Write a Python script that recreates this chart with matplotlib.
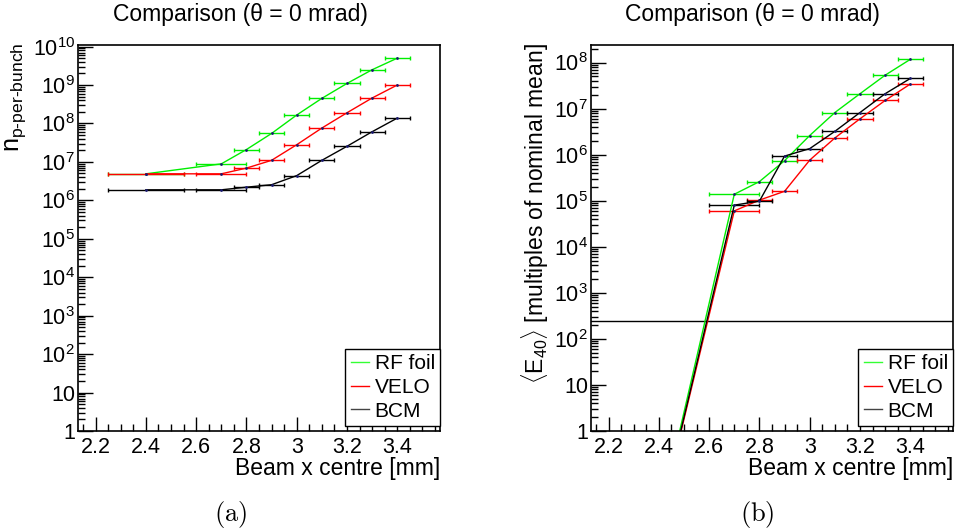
import numpy as np
import matplotlib
matplotlib.use("Agg")
import matplotlib.pyplot as plt
from matplotlib.ticker import FixedLocator, LogLocator, MultipleLocator, NullFormatter, FuncFormatter
from matplotlib.lines import Line2D

plt.rcParams['font.family'] = ['Liberation Sans', 'DejaVu Sans']
plt.rcParams['mathtext.fontset'] = 'custom'
plt.rcParams['mathtext.rm'] = 'Liberation Sans'
plt.rcParams['mathtext.it'] = 'Liberation Sans:italic'
plt.rcParams['mathtext.bf'] = 'Liberation Sans:bold'

# beam x centre [mm] and horizontal errors
beam_x = [2.4, 2.7, 2.8, 2.9, 3.0, 3.1, 3.2, 3.3, 3.4]
beam_xerr = [0.15, 0.1, 0.05, 0.05, 0.05, 0.05, 0.05, 0.05, 0.05]

# (a) protons per bunch
n_rf_foil = [4.9e6, 8.9e6, 2.1e7, 5.5e7, 1.66e8, 4.5e8, 1.1e9, 2.5e9, 5.0e9]
n_velo = [4.9e6, 4.9e6, 6.9e6, 1.1e7, 2.8e7, 7.6e7, 1.9e8, 4.6e8, 1.0e9]
n_bcm = [1.88e6, 1.88e6, 2.2e6, 2.55e6, 4.4e6, 1.1e7, 2.55e7, 6.1e7, 1.38e8]

# (b) <E40> in multiples of nominal mean
e_rf_foil = [0.011, 1.38e5, 2.6e5, 7.4e5, 2.6e6, 8.2e6, 2.1e7, 5.3e7, 1.17e8]
e_velo = [0.010, 6.0e4, 1.03e5, 1.6e5, 7.6e5, 2.3e6, 6.0e6, 1.5e7, 3.4e7]
e_bcm = [0.010, 8.0e4, 9.8e4, 9.3e5, 1.35e6, 3.2e6, 8.2e6, 2.1e7, 4.5e7]
e_threshold = 245

labels = ["RF foil", "VELO", "BCM"]
colors = ["#00ee00", "#ff0000", "#000000"]


def log_label(v, pos):
    e = int(round(np.log10(v)))
    if e == 0:
        return "1"
    if e == 1:
        return "10"
    return r"$\mathregular{10^{%d}}$" % e


def style_axes(ax, ymax, top_exp):
    ax.set_xlim(2.13, 3.57)
    ax.set_yscale("log")
    ax.set_ylim(1, ymax)
    ax.xaxis.set_major_locator(FixedLocator([2.2, 2.4, 2.6, 2.8, 3.0, 3.2, 3.4]))
    ax.xaxis.set_minor_locator(MultipleLocator(0.05))
    ax.xaxis.set_major_formatter(FuncFormatter(lambda v, p: "%g" % round(v, 1)))
    ax.yaxis.set_major_locator(FixedLocator([10.0 ** k for k in range(top_exp + 1)]))
    ax.yaxis.set_minor_locator(LogLocator(base=10, subs=np.arange(2, 10), numticks=20))
    ax.yaxis.set_major_formatter(FuncFormatter(log_label))
    ax.yaxis.set_minor_formatter(NullFormatter())
    ax.tick_params(axis="x", which="major", direction="in", length=10, width=1, labelsize=15.5, pad=4)
    ax.tick_params(axis="x", which="minor", direction="in", length=5, width=1)
    ax.tick_params(axis="y", which="major", direction="in", length=11, width=1, labelsize=15.5, pad=2)
    ax.tick_params(axis="y", which="minor", direction="in", length=5, width=1)
    for s in ax.spines.values():
        s.set_linewidth(1.2)


def draw(ax, series):
    for vals, c in zip(series, colors):
        ax.errorbar(beam_x, vals, xerr=beam_xerr, color=c, lw=1, elinewidth=1,
                    capsize=1.5, capthick=1, marker="o", ms=1.0,
                    mfc="#1a1a70", mec="#1a1a70")


fig = plt.figure(figsize=(9.57, 5.32), dpi=100)
ax1 = fig.add_axes([78 / 957, 1 - 431 / 532, 362 / 957, 386 / 532])
ax2 = fig.add_axes([591 / 957, 1 - 431 / 532, 362 / 957, 386 / 532])

draw(ax1, [n_rf_foil, n_velo, n_bcm])
style_axes(ax1, 1.1e10, 10)

draw(ax2, [e_rf_foil, e_velo, e_bcm])
ax2.axhline(e_threshold, color="black", lw=1)
style_axes(ax2, 2.4e8, 8)

handles = [Line2D([], [], color=c, lw=1) for c in ["#33ff33", "#ff0000", "#444444"]]
for ax in (ax1, ax2):
    leg = ax.legend(handles, labels, loc="lower right", bbox_to_anchor=(1.0, 0.0137),
                    borderaxespad=0, fancybox=False, framealpha=1, edgecolor="black",
                    fontsize=15, handlelength=0.9, handletextpad=0.25, labelspacing=0.22,
                    borderpad=0.25)
    leg.get_frame().set_linewidth(1)

# titles, axis labels, captions
fig.text(240 / 957, 1 - 14 / 532, "Comparison (θ = 0 mrad)", ha="center", va="center", fontsize=16.5)
fig.text(752 / 957, 1 - 14 / 532, "Comparison (θ = 0 mrad)", ha="center", va="center", fontsize=16.5)
fig.text(440 / 957, 1 - 468 / 532, "Beam x centre [mm]", ha="right", va="center", fontsize=16.5)
fig.text(953 / 957, 1 - 468 / 532, "Beam x centre [mm]", ha="right", va="center", fontsize=16.5)
fig.text(16 / 957, 1 - 43 / 532, "$\\mathregular{n_{p\u2010per\u2010bunch}}$", rotation=90,
         ha="center", va="top", fontsize=18)
fig.text(535 / 957, 1 - 43 / 532, r"$\langle\mathregular{E_{40}}\rangle$ [multiples of nominal mean]",
         rotation=90, ha="center", va="top", fontsize=16.5)
fig.text(231 / 957, 1 - 515 / 532, r"$\mathrm{(a)}$", ha="center", va="center", fontsize=19,
         math_fontfamily="cm")
fig.text(757 / 957, 1 - 515 / 532, r"$\mathrm{(b)}$", ha="center", va="center", fontsize=19,
         math_fontfamily="cm")

fig.savefig("out.png", dpi=100)
